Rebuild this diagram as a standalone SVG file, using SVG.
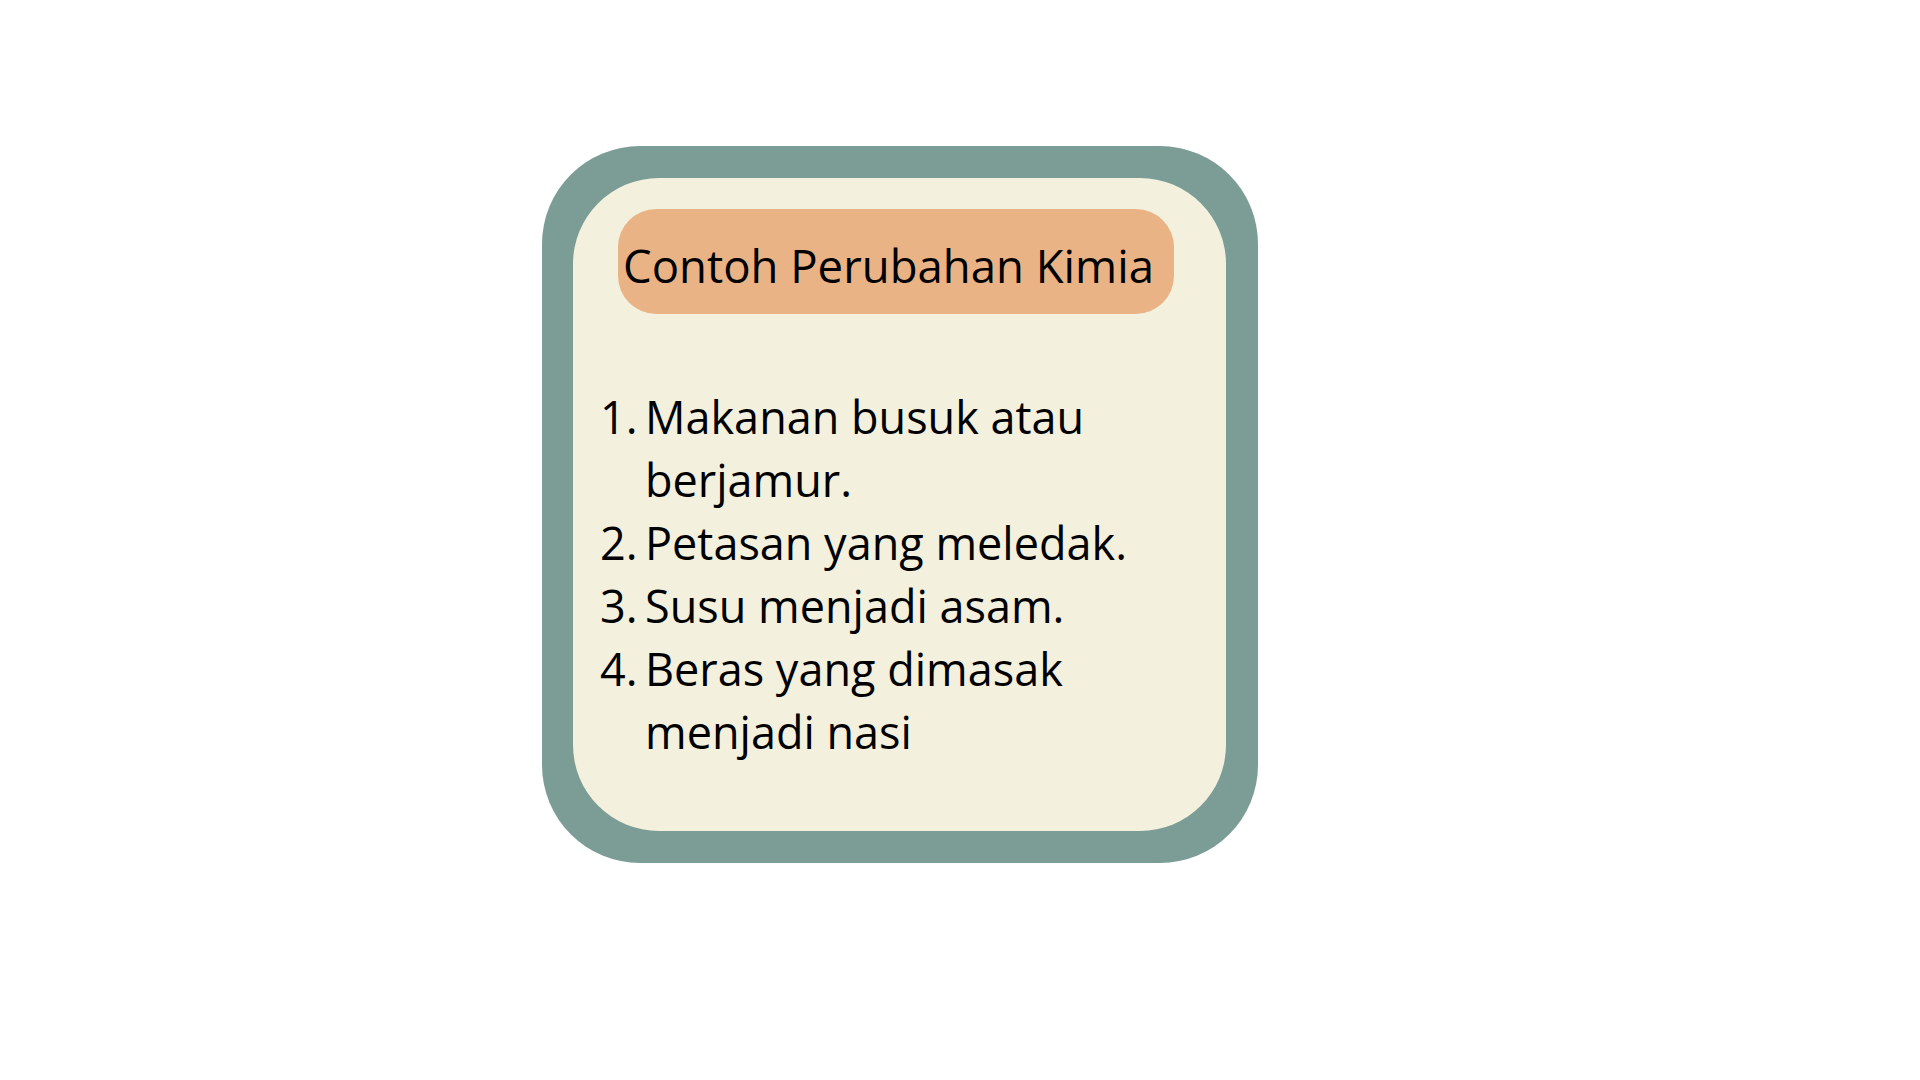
<svg xmlns="http://www.w3.org/2000/svg" width="1920" height="1080" viewBox="0 0 1920 1080">
<style>
.t{font-family:"Open Sans","Noto Sans","DejaVu Sans",sans-serif;fill:#000000;}
.title{font-size:45.5px;}
.item{font-size:45px;}
</style>
<rect width="1920" height="1080" fill="#FFFFFF"/>
<g id="card">
<rect x="542" y="146" width="716" height="717" rx="98" fill="#7B9D95"/>
<rect x="573" y="178" width="653" height="653" rx="86" fill="#F3F0DE"/>
</g>
<g id="title">
<rect x="618" y="209" width="556" height="105" rx="38" fill="#EAB385"/>
<text class="t title" x="623" y="283">Contoh Perubahan Kimia</text>
</g>
<g id="list">
<text class="t item" x="600" y="434">1.</text>
<text class="t item" x="645" y="434">Makanan busuk atau</text>
<text class="t item" x="645" y="497">berjamur.</text>
<text class="t item" x="600" y="560">2.</text>
<text class="t item" x="645" y="560">Petasan yang meledak.</text>
<text class="t item" x="600" y="623">3.</text>
<text class="t item" x="645" y="623">Susu menjadi asam.</text>
<text class="t item" x="600" y="686">4.</text>
<text class="t item" x="645" y="686">Beras yang dimasak</text>
<text class="t item" x="645" y="749">menjadi nasi</text>
</g>
</svg>
